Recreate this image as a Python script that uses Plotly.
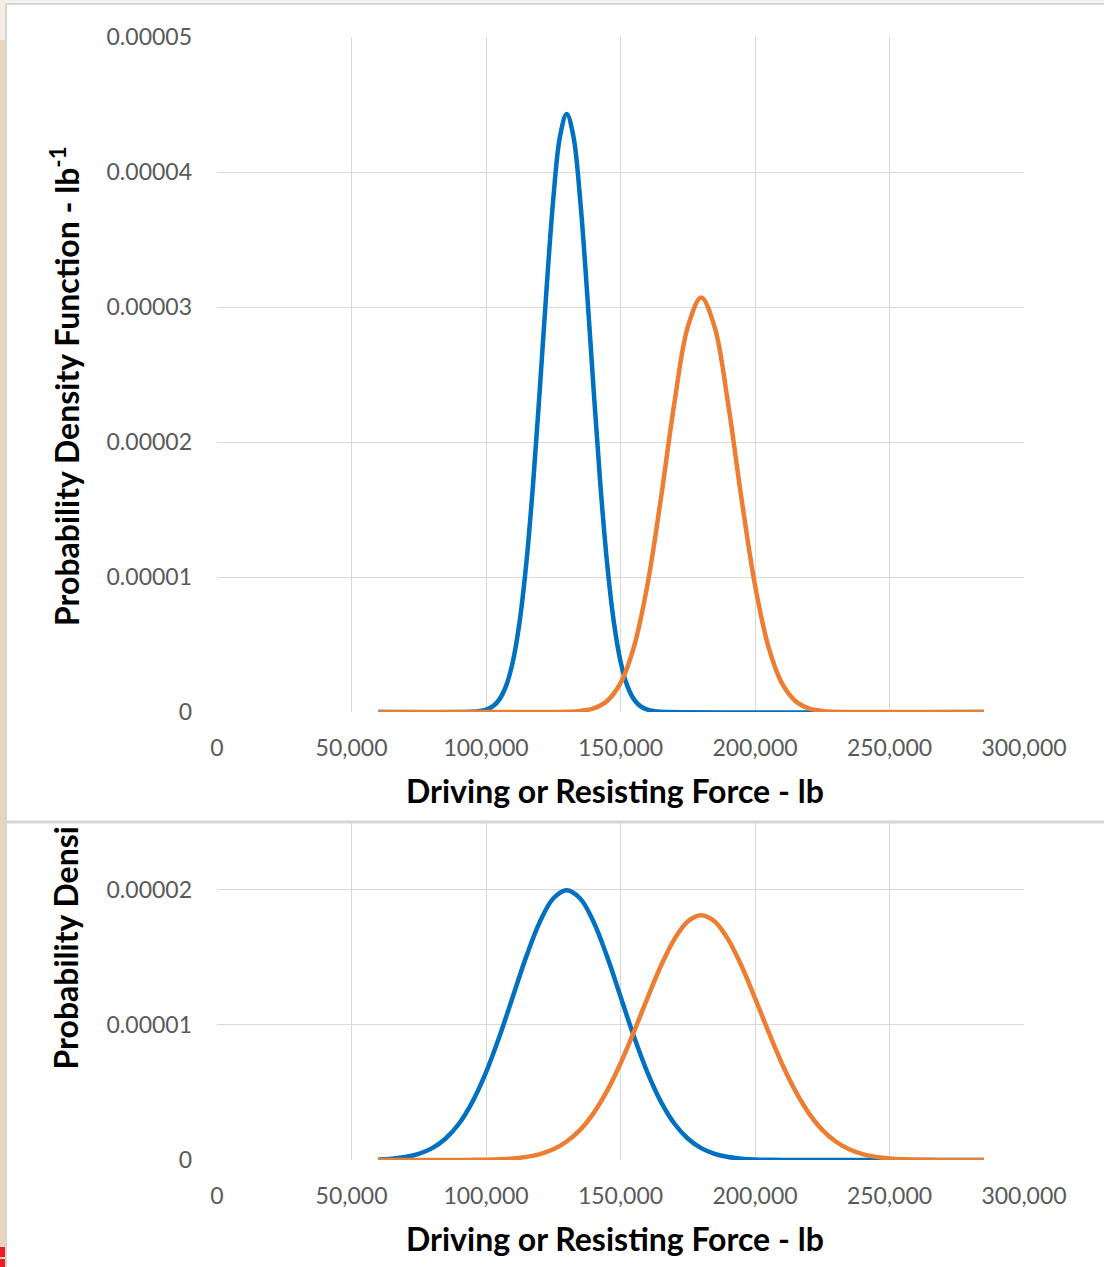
import plotly.graph_objects as go

W, H = 1104, 1267

# ---------------- data (density in units of 1e-5 per lb) ----------------
top_driving_x = [60000, 95000, 97500, 100000, 102500, 105000, 107500, 110000, 112500, 115000,
                 117500, 120000, 122500, 125000, 127500, 130000, 132500, 135000, 137500, 140000,
                 142500, 145000, 147500, 150000, 152500, 155000, 157500, 160000, 162500, 165000, 285000]
top_driving_y = [0, 0.002, 0.0065, 0.0171, 0.0416, 0.0935, 0.195, 0.375, 0.669, 1.105,
                 1.689, 2.390, 3.131, 3.797, 4.263, 4.43, 4.263, 3.797, 3.131, 2.390,
                 1.689, 1.105, 0.669, 0.375, 0.195, 0.0935, 0.0416, 0.0171, 0.0065, 0.002, 0]

top_resisting_x = [60000, 120000, 125000, 130000, 135000, 140000, 145000, 150000, 155000, 160000,
                   165000, 170000, 175000, 180000, 185000, 190000, 195000, 200000, 205000, 210000,
                   215000, 220000, 225000, 230000, 235000, 240000, 285000]
top_resisting_y = [0, 0, 0.0004, 0.0019, 0.0077, 0.0270, 0.0819, 0.214, 0.483, 0.940,
                   1.578, 2.284, 2.851, 3.07, 2.851, 2.284, 1.578, 0.940, 0.483, 0.214,
                   0.0819, 0.0270, 0.0077, 0.0019, 0.0004, 0, 0]

bot_driving_x = [60000, 65000, 70000, 75000, 80000, 85000, 90000, 95000, 100000, 105000,
                 110000, 115000, 120000, 125000, 130000, 135000, 140000, 145000, 150000, 155000,
                 160000, 165000, 170000, 175000, 180000, 185000, 190000, 195000, 200000, 205000,
                 210000, 285000]
bot_driving_y = [0.0044, 0.0101, 0.0222, 0.0455, 0.0877, 0.159, 0.270, 0.432, 0.648, 0.913,
                 1.210, 1.506, 1.761, 1.934, 1.995, 1.934, 1.761, 1.506, 1.210, 0.913,
                 0.648, 0.432, 0.270, 0.159, 0.0877, 0.0455, 0.0222, 0.0101, 0.0044, 0.0018,
                 0.0007, 0]

bot_resisting_x = [60000, 90000, 95000, 100000, 105000, 110000, 115000, 120000, 125000, 130000,
                   135000, 140000, 145000, 150000, 155000, 160000, 165000, 170000, 175000, 180000,
                   185000, 190000, 195000, 200000, 205000, 210000, 215000, 220000, 225000, 230000,
                   235000, 240000, 245000, 250000, 255000, 260000, 265000, 270000, 275000, 285000]
bot_resisting_y = [0, 0.0004, 0.0010, 0.0024, 0.0054, 0.0115, 0.0230, 0.0439, 0.0795, 0.137,
                   0.223, 0.347, 0.511, 0.714, 0.949, 1.197, 1.435, 1.632, 1.764, 1.81,
                   1.764, 1.632, 1.435, 1.197, 0.949, 0.714, 0.511, 0.347, 0.223, 0.137,
                   0.0795, 0.0439, 0.0230, 0.0115, 0.0054, 0.0024, 0.0010, 0.0004, 0.0001, 0]

x_tickvals = [0, 50000, 100000, 150000, 200000, 250000, 300000]
x_ticktext = ["0", "50,000", "100,000", "150,000", "200,000", "250,000", "300,000"]
top_y_tickvals = [0, 1, 2, 3, 4, 5]
top_y_ticktext = ["0", "0.00001", "0.00002", "0.00003", "0.00004", "0.00005"]
bot_y_tickvals = [0, 1, 2]
bot_y_ticktext = ["0", "0.00001", "0.00002"]

x_title = "Driving or Resisting Force - lb"
y_title = "Probability Density Function - lb<sup>-1</sup>"
y_title_cut = "Probability Densi"

BLUE = "#0070C0"
ORANGE = "#ED7D31"
GRID = "#D9D9D9"
TICKC = "#595959"
FONT = "Lato"


def px(x):
    return x / W


def py(y):
    return 1 - y / H


fig = go.Figure()
line_kw = dict(width=4.5, shape="spline", smoothing=1.0)
fig.add_trace(go.Scatter(x=top_driving_x, y=top_driving_y, mode="lines", line=dict(color=BLUE, **line_kw), xaxis="x", yaxis="y"))
fig.add_trace(go.Scatter(x=top_resisting_x, y=top_resisting_y, mode="lines", line=dict(color=ORANGE, **line_kw), xaxis="x", yaxis="y"))
fig.add_trace(go.Scatter(x=bot_driving_x, y=bot_driving_y, mode="lines", line=dict(color=BLUE, **line_kw), xaxis="x2", yaxis="y2"))
fig.add_trace(go.Scatter(x=bot_resisting_x, y=bot_resisting_y, mode="lines", line=dict(color=ORANGE, **line_kw), xaxis="x2", yaxis="y2"))

axis_common = dict(showgrid=True, gridcolor=GRID, gridwidth=1, zeroline=False, showline=False,
                   automargin=False, ticks="", tickfont=dict(family=FONT, size=23, color=TICKC),
                   fixedrange=True)

fig.update_layout(
    width=W, height=H, autosize=False,
    margin=dict(l=0, r=0, t=0, b=0, pad=0, autoexpand=False),
    paper_bgcolor="white", plot_bgcolor="white",
    showlegend=False,
    font=dict(family=FONT),
    xaxis=dict(domain=[px(217), px(1024)], range=[0, 300000], tickvals=x_tickvals, ticktext=x_ticktext,
               anchor="y", ticklabelstandoff=20, **axis_common),
    yaxis=dict(domain=[py(712), py(37)], range=[0, 5], tickvals=top_y_tickvals, ticktext=top_y_ticktext,
               anchor="x", ticklabelstandoff=24, **axis_common),
    xaxis2=dict(domain=[px(217), px(1024)], range=[0, 300000], tickvals=x_tickvals, ticktext=x_ticktext,
                anchor="y2", ticklabelstandoff=20, **axis_common),
    yaxis2=dict(domain=[py(1160), py(822)], range=[0, 2.5], tickvals=bot_y_tickvals, ticktext=bot_y_ticktext,
                anchor="x2", ticklabelstandoff=24, **axis_common),
)

shapes = [
    # outer background strips
    dict(type="rect", xref="paper", yref="paper", x0=0, x1=1, y0=py(4), y1=1,
         fillcolor="#F5F1EA", line=dict(width=0), layer="below"),
    dict(type="rect", xref="paper", yref="paper", x0=0, x1=px(5), y0=0, y1=py(40),
         fillcolor="#E8D5BB", line=dict(width=0), layer="below"),
    dict(type="rect", xref="paper", yref="paper", x0=0, x1=px(5), y0=py(40), y1=1,
         fillcolor="#F3EDE4", line=dict(width=0), layer="below"),
    # panel borders
    dict(type="line", xref="paper", yref="paper", x0=px(5), x1=1, y0=py(4), y1=py(4),
         line=dict(color="#D6D6D6", width=2), layer="below"),
    dict(type="line", xref="paper", yref="paper", x0=px(6), x1=px(6), y0=0, y1=py(4),
         line=dict(color="#D6D6D6", width=2), layer="below"),
    dict(type="line", xref="paper", yref="paper", x0=px(6), x1=1, y0=py(822), y1=py(822),
         line=dict(color="#D6D6D6", width=3), layer="above"),
    # red marks at bottom-left
    dict(type="rect", xref="paper", yref="paper", x0=0, x1=px(5), y0=py(1257), y1=py(1247),
         fillcolor="#EE1C25", line=dict(width=0), layer="below"),
    dict(type="rect", xref="paper", yref="paper", x0=0, x1=px(5), y0=0, y1=py(1259),
         fillcolor="#EE1C25", line=dict(width=0), layer="below"),
]
fig.update_layout(shapes=shapes)

ann_font = dict(family=FONT, size=32, color="black")
fig.update_layout(annotations=[
    dict(text="<b>" + x_title + "</b>", xref="paper", yref="paper", x=px(615), y=py(790),
         xanchor="center", yanchor="middle", showarrow=False, font=ann_font),
    dict(text="<b>" + x_title + "</b>", xref="paper", yref="paper", x=px(615), y=py(1238),
         xanchor="center", yanchor="middle", showarrow=False, font=ann_font),
    dict(text="<b>" + y_title + "</b>", xref="paper", yref="paper", x=px(65), y=py(386),
         xanchor="center", yanchor="middle", textangle=-90, showarrow=False, font=ann_font),
    dict(text="<b>" + y_title_cut + "</b>", xref="paper", yref="paper", x=px(65), y=py(1072),
         xanchor="center", yanchor="bottom", textangle=-90, showarrow=False, font=ann_font),
])

fig.write_html("out.html")
